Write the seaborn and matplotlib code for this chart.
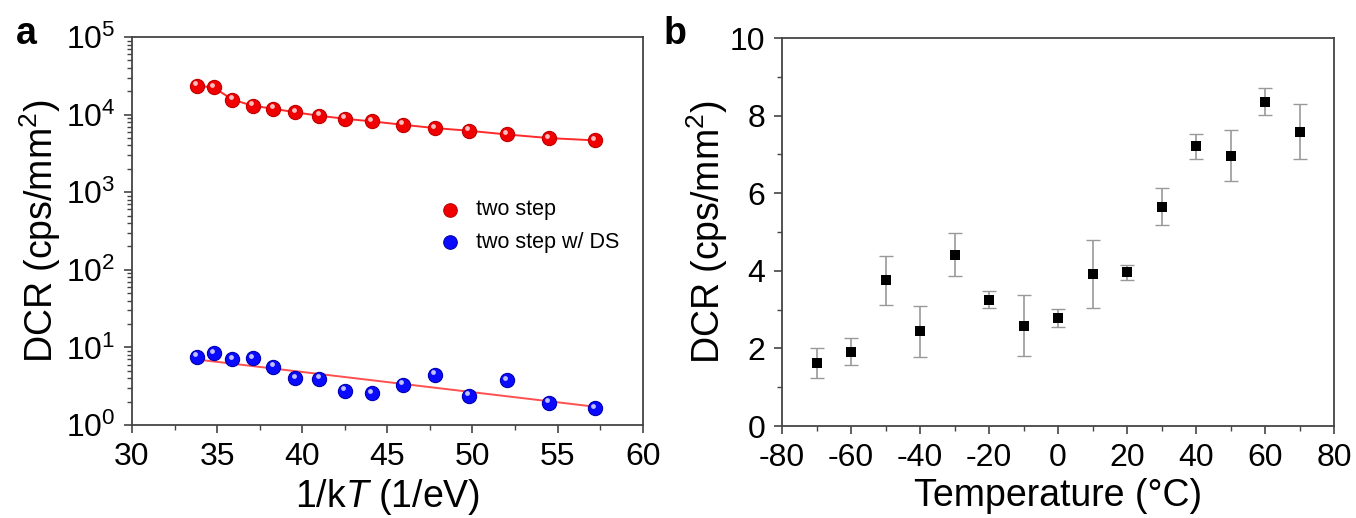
import numpy as np
import matplotlib
matplotlib.use("Agg")
import matplotlib.pyplot as plt
import matplotlib.transforms as mtransforms
from matplotlib.ticker import LogLocator, MultipleLocator, NullFormatter
import seaborn as sns
import pandas as pd

sns.set_theme(style="white")
plt.rcParams["font.family"] = ["Liberation Sans", "DejaVu Sans"]
plt.rcParams["mathtext.fontset"] = "custom"
plt.rcParams["mathtext.rm"] = "Liberation Sans"
plt.rcParams["mathtext.it"] = "Liberation Sans:italic"
plt.rcParams["axes.unicode_minus"] = False
for k in ("text.color", "axes.labelcolor", "xtick.labelcolor", "ytick.labelcolor"):
    plt.rcParams[k] = "black"

# ---- Panel a data ----
inv_kT = [33.8, 34.8, 35.9, 37.1, 38.3, 39.6, 41.0, 42.5, 44.1, 45.9, 47.8, 49.8, 52.0, 54.5, 57.2]
dcr_two_step = [23500, 22400, 15600, 13000, 11900, 10700, 9660, 8840, 8170, 7400, 6700, 6190, 5550, 4980, 4650]
dcr_two_step_ds = [7.6, 8.4, 7.0, 7.2, 5.65, 4.0, 3.92, 2.77, 2.56, 3.28, 4.42, 2.39, 3.80, 1.94, 1.64]
fit_ds_x = [33.8, 57.2]
fit_ds_y = [7.0, 1.72]

# ---- Panel b data ----
temperature = [-70, -60, -50, -40, -30, -20, -10, 0, 10, 20, 30, 40, 50, 60, 70]
dcr_temp = [1.63, 1.91, 3.76, 2.44, 4.42, 3.26, 2.59, 2.78, 3.91, 3.96, 5.65, 7.21, 6.97, 8.36, 7.59]
dcr_err = [0.39, 0.35, 0.63, 0.65, 0.55, 0.23, 0.79, 0.23, 0.88, 0.20, 0.48, 0.32, 0.65, 0.35, 0.70]

fig = plt.figure(figsize=(13.56, 5.18), dpi=100)
axa = fig.add_axes([0.0973, 0.1795, 0.3767, 0.7491])
axb = fig.add_axes([0.5767, 0.1776, 0.4071, 0.749])

spine_c = "#444444"
for ax in (axa, axb):
    for s in ax.spines.values():
        s.set_color(spine_c)
        s.set_linewidth(1.3)
    ax.tick_params(axis="both", which="both", direction="out", color=spine_c,
                   bottom=True, left=True, top=False, right=False)
    ax.tick_params(axis="both", which="major", length=6, width=1.2, labelsize=23, pad=6)
    ax.tick_params(axis="both", which="minor", length=3.5, width=1.0)

# ---- Panel a ----
dfa = pd.DataFrame({"x": inv_kT, "red": dcr_two_step, "blue": dcr_two_step_ds})
sns.lineplot(data=dfa, x="x", y="red", ax=axa, color="#ff2a2a", lw=1.4, zorder=2)
sns.lineplot(x=fit_ds_x, y=fit_ds_y, ax=axa, color="#ff5050", lw=1.4, zorder=2)
sns.scatterplot(data=dfa, x="x", y="red", ax=axa, color="#f00000", edgecolor="#c00000",
                s=105, linewidth=0.8, zorder=3, label="two step")
sns.scatterplot(data=dfa, x="x", y="blue", ax=axa, color="#0a0aff", edgecolor="#0000b0",
                s=105, linewidth=0.8, zorder=3, label="two step w/ DS")
shine = mtransforms.offset_copy(axa.transData, fig=fig, x=-1.2, y=1.8, units="points")
axa.scatter(inv_kT, dcr_two_step, s=12, color="white", alpha=0.75, lw=0, transform=shine, zorder=4)
axa.scatter(inv_kT, dcr_two_step_ds, s=12, color="white", alpha=0.75, lw=0, transform=shine, zorder=4)

axa.set_yscale("log")
axa.set_xlim(30, 60)
axa.set_ylim(1, 1e5)
axa.xaxis.set_major_locator(MultipleLocator(5))
axa.xaxis.set_minor_locator(MultipleLocator(2.5))
axa.yaxis.set_major_locator(LogLocator(base=10, numticks=10))
axa.yaxis.set_minor_locator(LogLocator(base=10, subs=np.arange(2, 10), numticks=50))
axa.yaxis.set_minor_formatter(NullFormatter())
axa.set_xlabel(r"1/k$\it{T}$ (1/eV)", fontsize=27, labelpad=4)
axa.set_ylabel(r"DCR (cps/mm$^2$)", fontsize=27, labelpad=2)
leg = axa.legend(loc="upper left", bbox_to_anchor=(0.56, 0.632), frameon=False,
                 fontsize=15.5, handletextpad=0.6, labelspacing=0.55, markerscale=0.95,
                 handlelength=1.2)

# ---- Panel b ----
dfb = pd.DataFrame({"T": temperature, "dcr": dcr_temp, "err": dcr_err})
axb.errorbar(dfb["T"], dfb["dcr"], yerr=dfb["err"], fmt="none", ecolor="#999999",
             elinewidth=1.2, capsize=5, capthick=1.0, zorder=2)
sns.scatterplot(data=dfb, x="T", y="dcr", ax=axb, marker="s", color="black",
                s=60, linewidth=0, zorder=3)
axb.set_xlim(-80, 80)
axb.set_ylim(0, 10)
axb.xaxis.set_major_locator(MultipleLocator(20))
axb.xaxis.set_minor_locator(MultipleLocator(10))
axb.yaxis.set_major_locator(MultipleLocator(2))
axb.yaxis.set_minor_locator(MultipleLocator(1))
axb.set_xlabel("Temperature (°C)", fontsize=27, labelpad=4)
axb.set_ylabel(r"DCR (cps/mm$^2$)", fontsize=27, labelpad=0)

fig.text(0.012, 0.935, "a", fontsize=27, fontweight="bold", ha="left", va="center")
fig.text(0.489, 0.935, "b", fontsize=27, fontweight="bold", ha="left", va="center")

fig.savefig("out.png", dpi=100)
